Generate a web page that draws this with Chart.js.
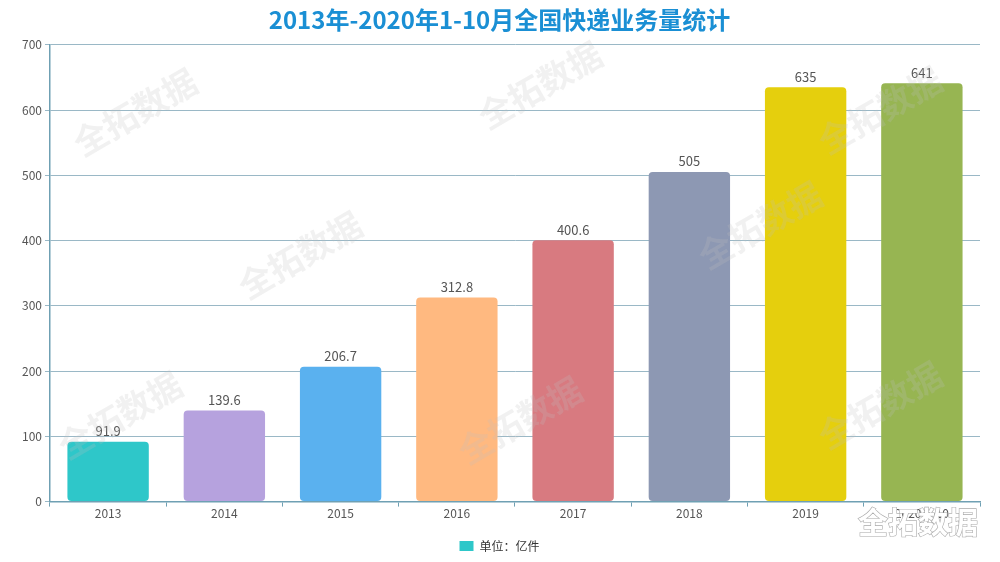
<!DOCTYPE html>
<html>
<head>
<meta charset="utf-8">
<script src="https://cdn.jsdelivr.net/npm/chart.js@4/dist/chart.umd.min.js"></script>
<style>
  html, body { margin: 0; padding: 0; background: #fff; }
  #wrap { width: 1000px; height: 562px; }
</style>
</head>
<body>
<div id="wrap"><canvas id="c" width="1000" height="562"></canvas></div>
<script>
// data
const years = ['2013', '2014', '2015', '2016', '2017', '2018', '2019', '2020.1-10'];
const volumes = [91.9, 139.6, 206.7, 312.8, 400.6, 505, 635, 641];
const barColors = ['#2ec7c9', '#b6a2de', '#5ab1ef', '#ffb980', '#d87a80', '#8d98b3', '#e5cf0d', '#97b552'];
const yTicks = [0, 100, 200, 300, 400, 500, 600, 700];

const FONT = '"Noto Sans CJK SC", "Noto Sans", sans-serif';

// value labels on top of bars
const valueLabels = {
    id: 'valueLabels',
    afterDatasetsDraw(chart) {
        const ctx = chart.ctx;
        const meta = chart.getDatasetMeta(0);
        ctx.save();
        ctx.font = '13px ' + FONT;
        ctx.fillStyle = '#555';
        ctx.textAlign = 'center';
        ctx.textBaseline = 'bottom';
        meta.data.forEach((bar, i) => {
            ctx.fillText(String(volumes[i]), bar.x, bar.y - 4);
        });
        ctx.restore();
    }
};

// faint watermark text
const watermark = {
    id: 'watermark',
    afterDraw(chart) {
        const ctx = chart.ctx;
        ctx.save();
        ctx.font = 'bold 34px ' + FONT;
        ctx.fillStyle = 'rgba(190,190,190,0.22)';
        ctx.textAlign = 'center';
        ctx.textBaseline = 'middle';
        const spots = [[135, 112], [300, 255], [120, 415], [540, 85], [520, 420], [760, 225], [880, 110], [880, 405]];
        spots.forEach(([x, y]) => {
            ctx.save();
            ctx.translate(x, y);
            ctx.rotate(-Math.PI / 6);
            ctx.fillText('全拓数据', 0, 0);
            ctx.restore();
        });
        // corner mark
        ctx.font = 'bold 30px ' + FONT;
        ctx.textAlign = 'left';
        ctx.fillStyle = '#fff';
        ctx.strokeStyle = '#aaa';
        ctx.lineWidth = 1.2;
        ctx.strokeText('全拓数据', 858, 522);
        ctx.fillText('全拓数据', 858, 522);
        ctx.restore();
    }
};

new Chart(document.getElementById('c'), {
    type: 'bar',
    data: {
        labels: years,
        datasets: [{
            label: '单位：亿件',
            data: volumes,
            backgroundColor: barColors,
            borderRadius: 4,
            borderSkipped: false,
            categoryPercentage: 1,
            barPercentage: 0.7
        }]
    },
    options: {
        responsive: false,
        animation: false,
        layout: { padding: { left: 19, right: 20, top: 0, bottom: 0 } },
        plugins: {
            title: {
                display: true,
                text: '2013年-2020年1-10月全国快递业务量统计',
                color: '#1a8fd4',
                font: { family: FONT, size: 24, weight: 'bold' },
                padding: { top: 5, bottom: 11 }
            },
            legend: {
                position: 'bottom',
                labels: {
                    font: { family: FONT, size: 12 },
                    color: '#333',
                    boxWidth: 14,
                    boxHeight: 10,
                    padding: 16,
                    generateLabels: () => [{
                        text: '单位：亿件',
                        fillStyle: barColors[0],
                        strokeStyle: barColors[0],
                        lineWidth: 0,
                        fontColor: '#333'
                    }]
                }
            },
            tooltip: { enabled: false }
        },
        scales: {
            x: {
                afterFit: (axis) => { axis.height += 3; },
                grid: {
                    offset: true,
                    drawOnChartArea: false,
                    drawTicks: true,
                    tickLength: 5,
                    color: '#6fa0b3'
                },
                border: { color: '#6fa0b3', width: 1.5 },
                ticks: { color: '#555', font: { family: FONT, size: 12 }, padding: 0 }
            },
            y: {
                min: 0,
                max: 700,
                afterBuildTicks: (axis) => { axis.ticks = yTicks.map(v => ({ value: v })); },
                grid: { color: '#9ab8c6', tickLength: 5 },
                border: { color: '#6fa0b3', width: 1.5 },
                ticks: { color: '#555', font: { family: FONT, size: 12 }, padding: 3 }
            }
        }
    },
    plugins: [valueLabels, watermark]
});
</script>
</body>
</html>
